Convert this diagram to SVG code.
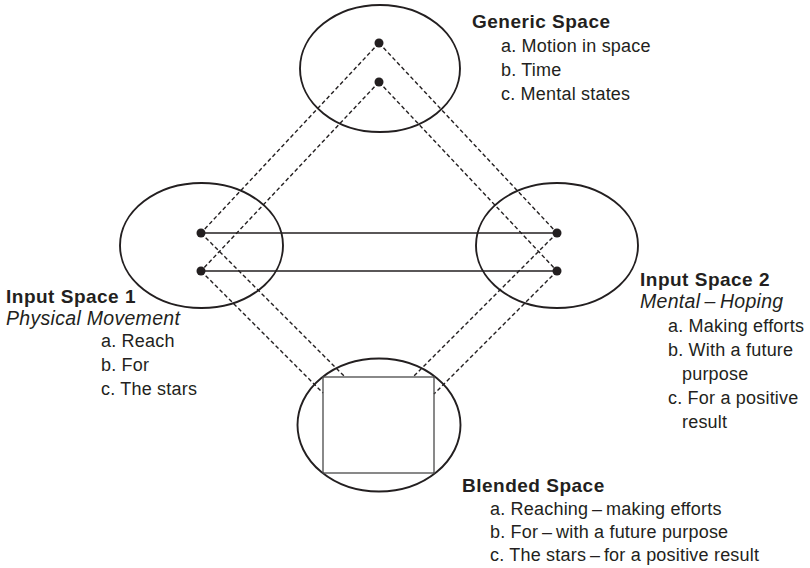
<svg xmlns="http://www.w3.org/2000/svg" width="810" height="568" viewBox="0 0 810 568">
  <style>
    .space { fill: none; stroke: #231f20; stroke-width: 1.9; }
    .frame { fill: none; stroke: #4a4a4a; stroke-width: 1.3; }
    .solid { stroke: #231f20; stroke-width: 1.7; fill: none; }
    .dash { stroke: #231f20; stroke-width: 1.4; fill: none; stroke-dasharray: 4 2.6; }
    .dot { fill: #231f20; }
    text { font-family: "Liberation Sans", Arial, Helvetica, sans-serif; fill: #231f20; }
    .title { font-size: 19px; font-weight: bold; letter-spacing: 0.5px; }
    .sub { font-size: 19.5px; font-style: italic; letter-spacing: 0.3px; }
    .item { font-size: 18px; letter-spacing: 0.2px; }
  </style>

  <!-- mappings between the spaces -->
  <g id="connectors">
    <!-- generic space to input spaces -->
    <line class="dash" x1="379" y1="43" x2="201" y2="233"/>
    <line class="dash" x1="379" y1="82" x2="201" y2="271"/>
    <line class="dash" x1="379" y1="43" x2="557" y2="233"/>
    <line class="dash" x1="379" y1="82" x2="557" y2="271"/>
    <!-- cross-space links between the inputs -->
    <line class="solid" x1="201" y1="233" x2="557" y2="233"/>
    <line class="solid" x1="201" y1="271" x2="557" y2="271"/>
    <!-- projections into the blend -->
    <line class="dash" x1="201" y1="233" x2="345" y2="377"/>
    <line class="dash" x1="201" y1="271" x2="323" y2="393"/>
    <line class="dash" x1="557" y1="233" x2="413" y2="377"/>
    <line class="dash" x1="557" y1="271" x2="434" y2="394"/>
  </g>

  <g id="generic-space">
    <ellipse class="space" cx="380" cy="68.5" rx="80" ry="63.5"/>
    <circle class="dot" cx="379" cy="43" r="4.5"/>
    <circle class="dot" cx="379" cy="82" r="4.5"/>
    <text class="title" x="472" y="28">Generic Space</text>
    <text class="item" x="501" y="52">a. Motion in space</text>
    <text class="item" x="501" y="76">b. Time</text>
    <text class="item" x="501" y="100">c. Mental states</text>
  </g>

  <g id="input-space-1">
    <ellipse class="space" cx="201.5" cy="245.5" rx="81.5" ry="62.5"/>
    <circle class="dot" cx="201" cy="233" r="4.5"/>
    <circle class="dot" cx="201" cy="271" r="4.5"/>
    <text class="title" x="6" y="303">Input Space 1</text>
    <text class="sub" x="6" y="325">Physical Movement</text>
    <text class="item" x="101" y="347">a. Reach</text>
    <text class="item" x="101" y="371">b. For</text>
    <text class="item" x="101" y="395">c. The stars</text>
  </g>

  <g id="input-space-2">
    <ellipse class="space" cx="557" cy="245.5" rx="81" ry="62.5"/>
    <circle class="dot" cx="557" cy="233" r="4.5"/>
    <circle class="dot" cx="557" cy="271" r="4.5"/>
    <text class="title" x="640" y="286">Input Space 2</text>
    <text class="sub" x="640" y="308">Mental&#8201;–&#8201;Hoping</text>
    <text class="item" x="668" y="332">a. Making efforts</text>
    <text class="item" x="668" y="356">b. With a future</text>
    <text class="item" x="682" y="380">purpose</text>
    <text class="item" x="668" y="404">c. For a positive</text>
    <text class="item" x="682" y="428">result</text>
  </g>

  <g id="blended-space">
    <ellipse class="space" cx="379" cy="425" rx="81.5" ry="66.5"/>
    <rect class="frame" x="323" y="377" width="111" height="96"/>
    <text class="title" x="462" y="492">Blended Space</text>
    <text class="item" x="490" y="515">a. Reaching&#8201;–&#8201;making efforts</text>
    <text class="item" x="490" y="538">b. For&#8201;–&#8201;with a future purpose</text>
    <text class="item" x="490" y="561">c. The stars&#8201;–&#8201;for a positive result</text>
  </g>
</svg>
